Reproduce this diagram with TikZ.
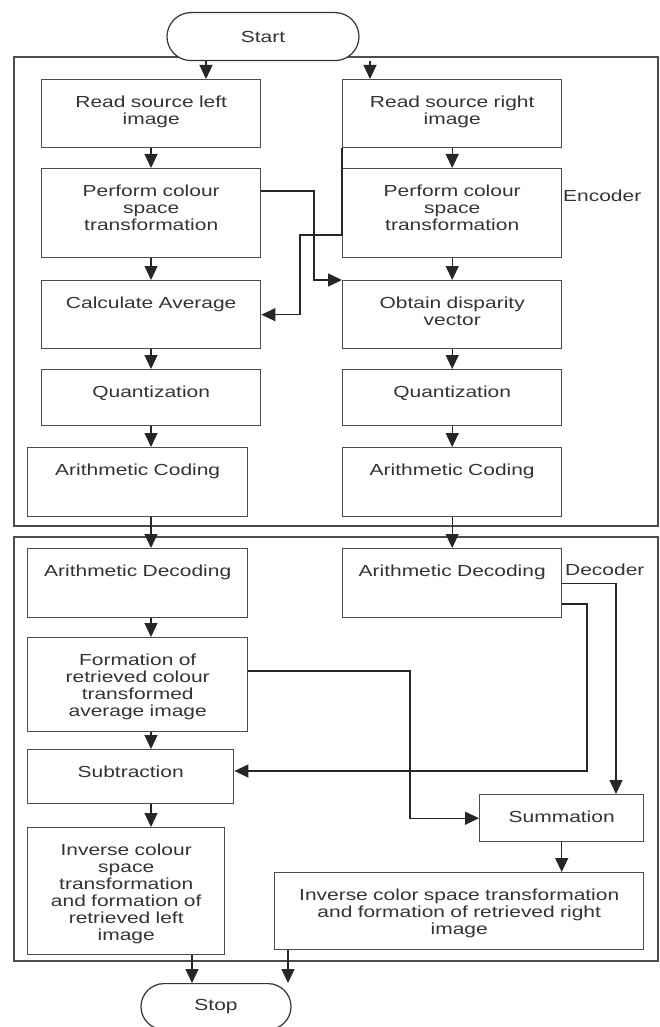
\documentclass[tikz,border=0pt]{standalone}
\usepackage{fontspec}
\newfontfamily\flowfont{Liberation Sans}[FakeStretch=1.31]
\usetikzlibrary{shapes}
\usetikzlibrary{arrows.meta}

\begin{document}
\begin{tikzpicture}
[x=1pt,y=-1pt,%
  lineDecorate/.style={-{Triangle[length=14pt,width=13pt]},line width=1.2pt,draw=black!85},%
  frameDecorate/.style={draw=black!70,line width=1.4pt},%
  nodeDecorate/.style 2 args={draw=black!70,line width=1.4pt,anchor=north west,align=center,text width=#1pt,text height=27.5pt,text depth=#2pt,inner xsep=0pt,inner ysep=0pt},%
  termDecorate/.style={shape=rounded rectangle,draw=black!80,fill=white,line width=1.2pt,anchor=north west,inner sep=0pt},%
  text=black!80,font=\flowfont\fontsize{16}{17}\selectfont]
\useasboundingbox (0,0) rectangle (659,1027);
%% encoder and decoder frames
\draw[frameDecorate] (14,57) rectangle (658,526);
\draw[frameDecorate] (14,537) rectangle (658,961);
\node[anchor=west,inner sep=0pt] (enc) at (563,196) {Encoder};
\node[anchor=west,inner sep=0pt] (dec) at (565,570) {Decoder};
%% terminals
\node[termDecorate,minimum width=192pt,minimum height=48pt] (start) at (191,12) {Start};
\node[termDecorate,minimum width=150pt,minimum height=46pt] (stop) at (164,983) {Stop};
%% encoder blocks
\node[nodeDecorate={219}{40.5}] (readL) at (41,79) {Read source left\\image};
\node[nodeDecorate={219}{40.5}] (readR) at (342,79) {Read source right\\image};
\node[nodeDecorate={219}{61.5}] (perfL) at (41,168) {Perform colour\\space\\transformation};
\node[nodeDecorate={219}{61.5}] (perfR) at (342,168) {Perform colour\\space\\transformation};
\node[nodeDecorate={219}{40.5}] (calcL) at (41,280) {Calculate Average};
\node[nodeDecorate={219}{40.5}] (disp) at (342,280) {Obtain disparity\\vector};
\node[nodeDecorate={219}{28.5}] (quantL) at (41,369) {Quantization};
\node[nodeDecorate={219}{28.5}] (quantR) at (342,369) {Quantization};
\node[nodeDecorate={220}{41.5}] (codeL) at (27,447) {Arithmetic Coding};
\node[nodeDecorate={219}{41.5}] (codeR) at (342,447) {Arithmetic Coding};
%% decoder blocks
\node[nodeDecorate={220}{41.5}] (decodeL) at (27,548) {Arithmetic Decoding};
\node[nodeDecorate={219}{41.5}] (decodeR) at (342,548) {Arithmetic Decoding};
\node[nodeDecorate={220}{66.5}] (form) at (27,637) {Formation of\\retrieved colour\\transformed\\average image};
\node[nodeDecorate={206}{26.5}] (sub) at (27,749) {Subtraction};
\node[nodeDecorate={164}{19.5}] (sum) at (479,794) {Summation};
\node[nodeDecorate={197}{99.5}] (invL) at (27,827) {Inverse colour\\space\\transformation\\and formation of\\retrieved left\\image};
\node[nodeDecorate={369}{49.5}] (invR) at (274,872) {Inverse color space transformation\\and formation of retrieved right\\image};
%% straight flow in both columns
\draw[lineDecorate] (206,0 |- start.south) -- (206,0 |- readL.north);
\draw[lineDecorate] (370,0 |- start.south) -- (370,0 |- readR.north);
\foreach \from/\to in {readL/perfL, perfL/calcL, calcL/quantL, quantL/codeL,
  codeL/decodeL, decodeL/form, form/sub, sub/invL}
  \draw[lineDecorate] (151,0 |- \from.south) -- (151,0 |- \to.north);
\foreach \from/\to in {readR/perfR, perfR/disp, disp/quantR, quantR/codeR, codeR/decodeR}
  \draw[lineDecorate] (\from.south) -- (\to.north);
%% cross connections
\draw[lineDecorate] (perfL.east |- 0,191) -- (314,191) |- (disp.north west);
\draw[lineDecorate] (readR.south west) -- (readR.south west |- 0,235) -| (300,0 |- calcL.east) -- (calcL.east);
\draw[lineDecorate] (decodeR.east) -| (sum.north -| 616,0);
\draw[lineDecorate] (decodeR.east |- 0,604) -- (587,604) |- (sub.east |- 0,771);
\draw[lineDecorate] (form.east |- 0,671) -| (410,0 |- sum.west) -- (sum.west);
\draw[lineDecorate] (sum.south) -- (sum.south |- invR.north);
\draw[lineDecorate] (192,0 |- invL.south) -- (192,0 |- stop.north);
\draw[lineDecorate] (288,0 |- invR.south) -- (288,0 |- stop.north);
\end{tikzpicture}
\end{document}
